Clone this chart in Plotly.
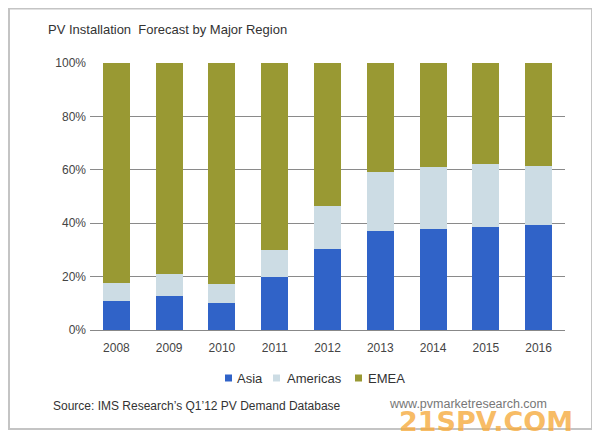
import plotly.graph_objects as go

years = ["2008", "2009", "2010", "2011", "2012", "2013", "2014", "2015", "2016"]
asia = [11.0, 12.9, 10.3, 20.0, 30.4, 36.9, 37.8, 38.5, 39.3]
americas = [6.5, 8.1, 6.8, 10.0, 15.9, 22.1, 23.2, 23.5, 22.3]
emea = [round(100 - a - b, 1) for a, b in zip(asia, americas)]
series_names = ["Asia", "Americas", "EMEA"]

c_asia = "#3063C8"
c_amer = "#CCDCE4"
c_emea = "#999933"
colors = [c_asia, c_amer, c_emea]

FONT = "Liberation Sans, Arial, sans-serif"

fig = go.Figure()
for name, vals, col in zip(series_names, [asia, americas, emea], colors):
    fig.add_trace(go.Bar(name=name, x=years, y=vals, marker_color=col,
                         marker_line_width=0, showlegend=False))

# page has an 8px body margin; work in reference pixel coords and offset
OFF = 8
W, H = 600 - OFF, 439 - OFF
L, T = 90 - OFF, 63 - OFF
R = W - (565 - OFF)
B = H - (330 - OFF)
pw, ph = W - L - R, H - T - B

def px(x):
    return (x - OFF - L) / pw

def py(y):
    return (H - B - (y - OFF)) / ph

fig.update_layout(
    width=W, height=H,
    barmode="stack", bargap=0.49,
    margin=dict(l=L, r=R, t=T, b=B),
    paper_bgcolor="white", plot_bgcolor="white",
    font=dict(family=FONT, size=12, color="#444444"),
    showlegend=False,
    xaxis=dict(showgrid=False, showline=True, linecolor="#888888", linewidth=1,
               ticks="", ticklabelstandoff=7, tickfont=dict(size=12, color="#444444")),
    yaxis=dict(range=[0, 100], tickvals=[0, 20, 40, 60, 80, 100],
               ticktext=["0%", "20%", "40%", "60%", "80%", "100%"],
               showgrid=True, gridcolor="#8a8a8a", gridwidth=1, zeroline=False,
               ticks="", ticklabelstandoff=3, tickfont=dict(size=12, color="#444444")),
)

# frame
fig.add_shape(type="rect", xref="paper", yref="paper",
              x0=px(9), x1=px(592), y0=py(429), y1=py(8.5),
              line=dict(color="#C4C4C4", width=2), fillcolor="rgba(0,0,0,0)", layer="below")

# legend (manual, to match compact spacing)
leg_sq_x = [225, 273, 355]
leg_tx_x = [235, 285, 366]
leg_y = 378
for name, col, sx, tx in zip(series_names, colors, leg_sq_x, leg_tx_x):
    fig.add_shape(type="rect", xref="paper", yref="paper",
                  x0=px(sx), x1=px(sx + 7), y0=py(leg_y + 3.5), y1=py(leg_y - 3.5),
                  fillcolor=col, line=dict(width=0))
    fig.add_annotation(text=name, xref="paper", yref="paper", x=px(tx), y=py(leg_y),
                       xanchor="left", yanchor="middle", showarrow=False,
                       font=dict(size=13, color="#333333", family=FONT))

fig.add_annotation(text="PV Installation  Forecast by Major Region", xref="paper", yref="paper",
                   x=px(46), y=py(30), xanchor="left", yanchor="middle", showarrow=False,
                   font=dict(size=13, color="#333333", family=FONT))
fig.add_annotation(text="Source: IMS Research’s Q1’12 PV Demand Database", xref="paper", yref="paper",
                   x=px(51), y=py(406), xanchor="left", yanchor="middle", showarrow=False,
                   font=dict(size=12, color="#333333", family=FONT))
fig.add_annotation(text="www.pvmarketresearch.com", xref="paper", yref="paper",
                   x=px(387), y=py(404), xanchor="left", yanchor="middle", showarrow=False,
                   font=dict(size=12.5, color="#777777", family=FONT))
fig.add_annotation(text="<b>21SPV.COM</b>", xref="paper", yref="paper",
                   x=px(486), y=py(421), xanchor="center", yanchor="middle", showarrow=False,
                   font=dict(size=27, color="rgba(246,170,60,0.8)", family="DejaVu Sans, sans-serif"))

fig.write_html("out.html")
